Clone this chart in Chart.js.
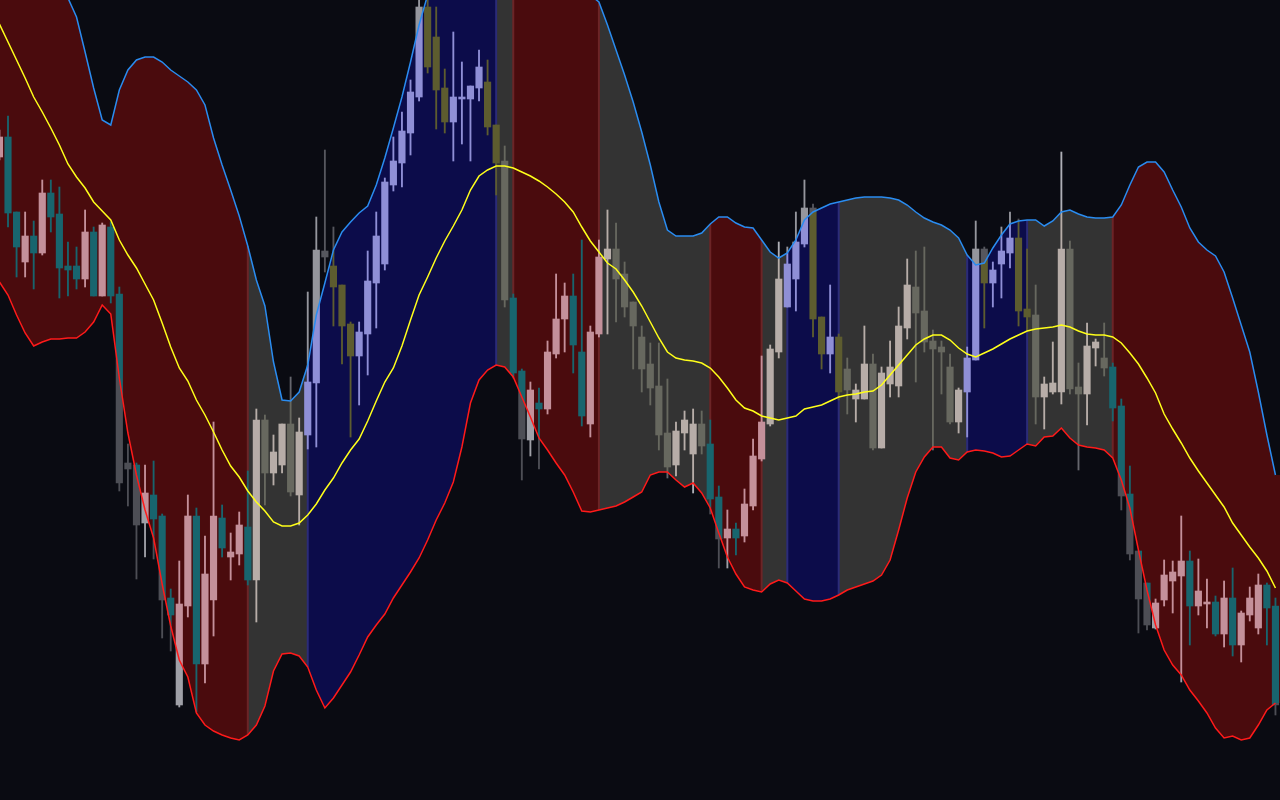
<!DOCTYPE html>
<html>
<head>
<meta charset="utf-8">
<script src="https://cdn.jsdelivr.net/npm/chart.js@4.4.1/dist/chart.umd.min.js"></script>
<style>
    html, body { margin: 0; padding: 0; background: #0a0b10; overflow: hidden; }
    #wrap { width: 1280px; height: 800px; position: relative; }
</style>
</head>
<body>
<div id="wrap"><canvas id="mainChart"></canvas></div>
<script>
// levels on a downward-running scale (0 = top edge, 800 = bottom edge)
const opens = [157,137,212,262,236,253,193,214,266,266,
    279,232,296,227,294,463,465,523,495,516,
    598,705,606,516,664,600,518,557,554,527,
    580,420,473,465,424,495,435,383,251,266,
    285,324,356,334,283,264,185,163,133,97,
    7,37,88,122,99,99,88,82,125,161,
    298,371,440,403,409,354,319,296,352,424,
    334,259,249,274,302,337,364,386,433,465,
    433,454,424,444,497,538,529,536,506,459,
    424,352,307,279,244,208,317,354,337,369,
    399,399,364,448,384,386,328,287,311,341,
    347,367,422,392,360,249,283,264,253,238,
    309,315,397,392,392,249,387,394,348,358,
    367,406,494,551,583,628,600,581,576,561,
    606,604,602,634,598,645,615,628,585,606];

const closes = [137,213,247,236,253,193,217,268,270,279,
    232,296,225,296,483,469,525,493,519,600,
    615,604,516,664,574,516,548,552,525,580,
    420,473,452,424,492,432,382,250,257,287,
    326,356,332,281,236,182,161,131,92,7,
    67,90,122,97,97,86,67,127,163,300,
    373,439,390,409,352,319,296,345,416,332,
    257,249,279,307,326,369,388,435,467,431,
    420,424,446,499,539,529,538,504,456,422,
    349,279,264,242,208,319,354,337,392,390,
    390,364,448,373,367,326,285,313,342,349,
    352,422,390,358,249,283,270,251,238,311,
    317,397,384,383,249,389,394,346,342,368,
    408,496,554,599,625,603,575,572,561,606,
    591,602,634,598,645,613,598,585,608,705];

const tops = [130,116,212,212,221,180,180,187,242,247,
    210,227,223,222,287,444,463,465,461,514,
    589,561,495,508,536,422,505,533,512,471,
    409,415,435,424,377,418,292,217,150,227,
    285,322,322,251,212,178,137,112,80,0,
    -5,7,69,32,62,86,50,60,125,146,
    294,369,382,388,341,274,283,274,240,326,
    240,210,223,262,302,326,343,343,379,422,
    411,409,411,420,486,510,523,489,439,356,
    345,242,247,212,180,204,317,285,334,358,
    384,326,354,367,341,307,259,251,247,330,
    341,354,388,347,221,247,262,227,212,219,
    249,285,377,342,152,241,363,323,339,323,
    363,399,466,551,583,599,560,561,516,551,
    559,579,596,581,568,611,587,574,583,598];

const bottoms = [160,227,277,277,289,255,232,298,296,289,
    287,296,296,303,491,506,579,557,559,638,
    651,707,617,712,683,636,557,580,565,585,
    622,505,485,473,496,525,449,447,272,326,
    364,437,405,375,328,270,191,187,155,101,
    73,129,133,161,144,161,101,135,195,307,
    378,480,456,469,414,358,352,373,426,437,
    337,334,322,317,369,392,405,450,478,476,
    450,493,454,514,568,568,555,542,510,461,
    426,358,307,311,247,337,369,373,400,414,
    422,399,450,448,397,397,339,382,352,450,
    394,424,433,437,360,328,307,298,268,326,
    330,424,429,394,404,394,470,425,366,376,
    421,510,560,633,630,629,606,613,682,645,
    615,628,636,647,656,662,621,634,645,715];

const upperBand = [-170,-140,-110,-85,-60,-40,-25,-12,-2,17,
    52,88,120,125,90,70,60,57,57,62,
    70,76,82,90,105,138,165,190,216,246,
    280,306,362,400,401,392,365,315,283,250,
    232,222,213,206,185,158,128,97,62,25,
    -5,-35,-60,-80,-95,-105,-110,-110,-105,-95,
    -85,-75,-65,-55,-45,-35,-25,-18,-12,-5,
    2,25,50,75,102,132,165,202,230,236,
    236,236,233,224,217,217,223,227,228,240,
    252,258,253,240,220,212,208,204,202,200,
    198,197,197,197,198,200,205,212,218,222,
    225,230,238,255,265,263,248,235,224,221,
    220,220,226,221,212,210,214,217,218,218,
    217,205,185,167,162,162,172,190,207,228,
    242,250,256,272,298,325,352,392,435,475];

const lowerBand = [282,295,315,333,346,342,339,339,338,338,
    332,322,305,314,378,433,475,510,538,584,
    626,660,677,713,725,731,735,738,740,735,
    725,706,671,654,653,656,667,690,708,698,
    685,672,655,637,625,614,598,585,572,558,
    540,520,503,482,447,403,380,370,365,367,
    377,397,417,438,450,463,475,492,511,512,
    510,508,506,502,497,492,475,472,472,480,
    487,483,493,508,533,557,574,587,590,592,
    584,580,583,591,599,601,601,599,595,590,
    587,584,581,575,560,530,498,472,457,447,
    447,458,460,452,450,451,453,457,456,450,
    444,446,437,436,428,438,445,447,448,450,
    458,480,508,550,590,625,650,665,675,690,
    701,713,728,738,736,740,738,725,710,703];

const midBand = [24,42,60,78,97,112,128,145,164,177,
    188,202,211,220,240,255,268,284,300,323,
    347,368,381,400,415,432,450,466,477,491,
    502,511,522,526,526,523,515,504,490,478,
    463,450,439,421,401,382,368,346,320,295,
    277,258,241,226,210,190,176,170,166,166,
    168,172,176,181,187,194,202,212,227,241,
    252,263,269,280,292,306,322,338,352,358,
    360,361,363,368,377,388,400,408,411,416,
    418,420,418,416,409,407,405,401,397,395,
    394,392,391,385,375,365,355,345,339,335,
    335,340,348,354,357,353,349,344,339,335,
    331,329,328,327,325,327,331,334,335,335,
    337,343,353,364,378,393,414,429,443,458,
    471,483,495,507,523,535,547,558,571,588];

// runs of candles by regime: first index, last index, kind
const zones = [
    [0, 29, 'bear'], [30, 35, 'flat'], [36, 58, 'bull'], [59, 59, 'flat'],
    [60, 70, 'bear'], [71, 82, 'flat'], [83, 89, 'bear'], [90, 91, 'flat'],
    [92, 98, 'bull'], [99, 112, 'flat'], [113, 120, 'bull'], [121, 129, 'flat'],
    [130, 149, 'bear']
];

const BG = '#0a0b10';
const palette = {
    bear: { up: '#c4909a', down: '#18656e', fill: '#4a0b0d', edge: '#6c2426' },
    flat: { up: '#b7ada8', down: '#67685f', fill: '#333333' },
    bull: { up: '#8f8fd6', down: '#5d5c2f', fill: '#0c0c4a', edge: '#2b2b78' }
};

const N = opens.length;
const regime = new Array(N);
zones.forEach(([a, b, kind]) => {
    for (let i = a; i <= b; i++) regime[i] = kind;
});
const candleColors = opens.map((o, i) => palette[regime[i]][closes[i] < o ? 'up' : 'down']);

const bandPlugin = {
    id: 'bandPlugin',
    beforeDraw(chart) {
        const { ctx, width, height } = chart;
        ctx.save();
        ctx.fillStyle = BG;
        ctx.fillRect(0, 0, width, height);
        ctx.restore();
    },
    beforeDatasetsDraw(chart) {
        const { ctx, chartArea: area, scales: { x, y } } = chart;
        const px = i => x.getPixelForValue(i);
        const py = v => y.getPixelForValue(v);

        const ribbon = (a, b) => {
            const x0 = a === 0 ? area.left - 2 : px(a);
            const x1 = b === N - 1 ? area.right + 2 : px(b);
            ctx.beginPath();
            ctx.moveTo(x0, py(upperBand[a]));
            for (let i = a; i <= b; i++) ctx.lineTo(px(i), py(upperBand[i]));
            ctx.lineTo(x1, py(upperBand[b]));
            ctx.lineTo(x1, py(lowerBand[b]));
            for (let i = b; i >= a; i--) ctx.lineTo(px(i), py(lowerBand[i]));
            ctx.lineTo(x0, py(lowerBand[a]));
            ctx.closePath();
        };

        ctx.save();
        ctx.beginPath();
        ctx.rect(area.left, area.top, area.width, area.height);
        ctx.clip();

        ribbon(0, N - 1);
        ctx.fillStyle = palette.flat.fill;
        ctx.fill();

        zones.filter(z => z[2] !== 'flat').forEach(([a, b, kind]) => {
            ribbon(a, b);
            ctx.fillStyle = palette[kind].fill;
            ctx.fill();
            ctx.strokeStyle = palette[kind].edge;
            ctx.lineWidth = 2;
            [a, b].forEach(i => {
                if (i === 0 || i === N - 1) return;
                ctx.beginPath();
                ctx.moveTo(px(i), py(upperBand[i]));
                ctx.lineTo(px(i), py(lowerBand[i]));
                ctx.stroke();
            });
        });
        ctx.restore();
    },
    afterDatasetDraw(chart, args) {
        // candles drawn, lines not yet: wash out whatever sits outside the band
        if (args.index !== 1) return;
        const { ctx, chartArea: area, scales: { x, y } } = chart;
        const px = i => x.getPixelForValue(i);
        const py = v => y.getPixelForValue(v);
        const L = area.left - 2, R = area.right + 2;

        ctx.save();
        ctx.beginPath();
        ctx.rect(area.left, area.top, area.width, area.height);
        ctx.clip();
        ctx.globalCompositeOperation = 'color';
        ctx.fillStyle = '#64656c';
        ctx.beginPath();
        ctx.moveTo(L, area.top - 400);
        ctx.lineTo(L, py(upperBand[0]));
        for (let i = 0; i < N; i++) ctx.lineTo(px(i), py(upperBand[i]));
        ctx.lineTo(R, py(upperBand[N - 1]));
        ctx.lineTo(R, area.top - 400);
        ctx.closePath();
        ctx.moveTo(L, area.bottom + 10);
        ctx.lineTo(L, py(lowerBand[0]));
        for (let i = 0; i < N; i++) ctx.lineTo(px(i), py(lowerBand[i]));
        ctx.lineTo(R, py(lowerBand[N - 1]));
        ctx.lineTo(R, area.bottom + 10);
        ctx.closePath();
        ctx.fill();
        ctx.restore();
    }
};

function lineSet(values, color, order) {
    return {
        type: 'line',
        data: values.map((v, i) => ({ x: i, y: v })),
        borderColor: color,
        borderWidth: 1.5,
        pointRadius: 0,
        tension: 0,
        fill: false,
        order: order
    };
}

const ctx = document.getElementById('mainChart').getContext('2d');
const chart = new Chart(ctx, {
    type: 'bar',
    data: {
        datasets: [
            {
                data: tops.map((t, i) => ({ x: i, y: [t, bottoms[i]] })),
                backgroundColor: candleColors,
                barThickness: 1.2,
                grouped: false,
                borderWidth: 0,
                order: 5
            },
            {
                data: opens.map((o, i) => ({ x: i, y: [o, closes[i]] })),
                backgroundColor: candleColors,
                barThickness: 6.5,
                grouped: false,
                borderWidth: 0,
                order: 4
            },
            lineSet(upperBand, '#2a8cf0', 2),
            lineSet(lowerBand, '#ff1a1a', 2),
            lineSet(midBand, '#ffff1a', 1)
        ]
    },
    options: {
        animation: false,
        responsive: true,
        maintainAspectRatio: false,
        devicePixelRatio: 1,
        layout: { padding: 0 },
        plugins: {
            legend: { display: false },
            tooltip: { enabled: false }
        },
        scales: {
            x: { type: 'linear', min: 0.065, max: 149.53, offset: false, display: false },
            y: { type: 'linear', min: 0, max: 800, reverse: true, display: false }
        }
    },
    plugins: [bandPlugin]
});
</script>
</body>
</html>
